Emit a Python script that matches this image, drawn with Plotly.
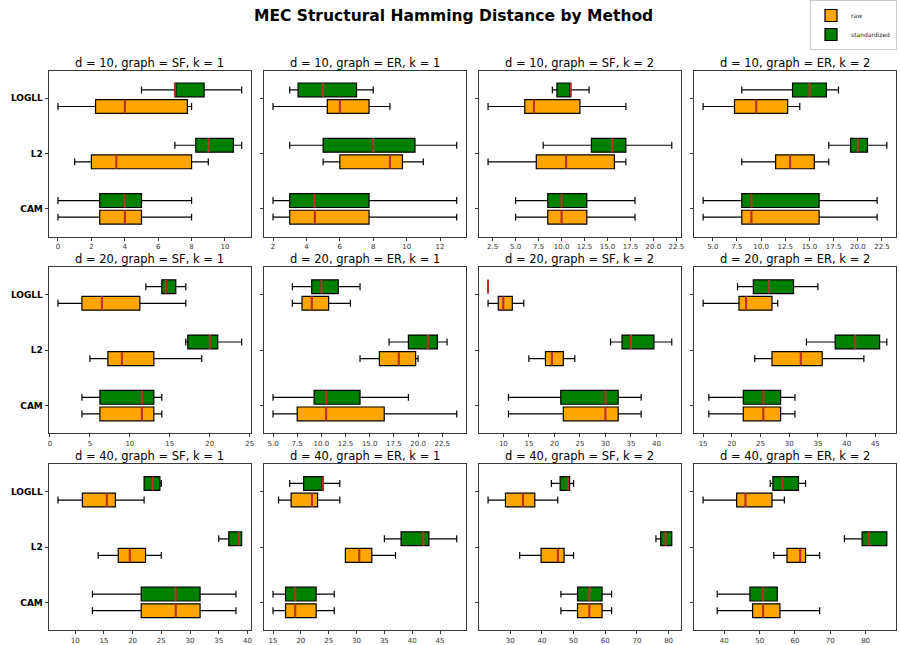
import plotly.graph_objects as go

# ---------------- data ----------------
methods = ["CAM", "L2", "LOGLL"]
panel_titles = [
    "d = 10, graph = SF, k = 1", "d = 10, graph = ER, k = 1",
    "d = 10, graph = SF, k = 2", "d = 10, graph = ER, k = 2",
    "d = 20, graph = SF, k = 1", "d = 20, graph = ER, k = 1",
    "d = 20, graph = SF, k = 2", "d = 20, graph = ER, k = 2",
    "d = 40, graph = SF, k = 1", "d = 40, graph = ER, k = 1",
    "d = 40, graph = SF, k = 2", "d = 40, graph = ER, k = 2",
]
series_names = ["raw", "standardized"]

# each row: [lower whisker, q1, median, q3, upper whisker], one row per panel
raw_cam = [
    [0, 2.5, 4, 5, 8], [2, 3, 4.5, 7.75, 13], [5, 8.5, 10, 12.75, 18], [4, 8, 9, 16, 22],
    [4, 6.25, 11.5, 13, 14], [5, 7.5, 10.5, 16.5, 24], [11, 21.75, 30, 32.5, 37], [16, 22, 25.5, 28.5, 31],
    [13, 21.5, 27.5, 31.75, 38], [15, 17.25, 19, 22.75, 26], [46, 51.25, 55, 59, 62], [38, 48, 51, 55.75, 67],
]
std_cam = [
    [0, 2.5, 4, 5, 8], [2, 3, 4.5, 7.75, 13], [5, 8.5, 10, 12.75, 18], [4, 8, 9, 16, 22],
    [4, 6.25, 11.5, 13, 14], [5, 9.25, 10.5, 14, 19], [11, 21.25, 30, 32.5, 37], [16, 22, 25.5, 28.5, 31],
    [13, 21.5, 27.5, 31.75, 38], [15, 17.25, 19, 22.75, 26], [46, 51.25, 55, 59, 62], [38, 47.25, 51, 55, 55],
]
raw_l2 = [
    [1, 2, 3.5, 8, 9], [5, 6, 9, 9.75, 11], [2, 7.25, 10.5, 15.75, 17], [8, 11.5, 13, 15.5, 17],
    [5, 7.25, 9, 13, 19], [14, 16, 18, 19.75, 20], [15, 18.25, 19.5, 21.75, 24], [24, 27, 32, 35.75, 43],
    [14, 17.5, 19.5, 22.25, 25], [28, 28, 30.5, 32.75, 37], [33, 39.75, 45, 47, 50], [54, 57.75, 61.5, 63, 67],
]
std_l2 = [
    [7, 8.25, 9, 10.5, 11], [3, 5, 8, 10.5, 13], [8, 13.25, 15.5, 17, 22], [17, 19.25, 20, 21, 23],
    [17, 17.25, 20, 21, 24], [17, 19, 21, 22, 23], [31, 33.25, 35, 39.5, 43], [33, 38, 41.5, 45.75, 47],
    [35, 36.75, 38.5, 39, 39], [35, 38, 42, 43, 48], [76, 77.5, 79, 81, 81], [74, 79, 81, 86, 86],
]
raw_logll = [
    [0, 2.25, 4, 7.75, 8], [2, 5.25, 6, 7.75, 9], [2, 6, 7, 12, 17], [4, 7.25, 9.5, 12.75, 14],
    [1, 4, 6.5, 11.25, 17], [7, 8, 9, 10.75, 13], [7, 9, 10, 11.75, 14], [15, 21.25, 22.5, 27, 28],
    [7, 11.25, 15.5, 17, 22], [16, 18.25, 22, 23, 27], [23, 28.5, 34, 37.75, 45], [34, 43.5, 46, 53.5, 57],
]
std_logll = [
    [5, 7, 7, 8.75, 11], [3, 3.5, 5, 7, 8], [9, 9.5, 11, 11, 13], [8, 13.25, 15, 16.75, 18],
    [12, 14, 14.5, 15.75, 17], [7, 9, 10, 11.75, 14], [7, 7, 7, 7, 7], [21, 23.75, 26.5, 30.75, 35],
    [22, 22, 23.5, 24.75, 25], [18, 20.5, 24, 24, 27], [43, 45.75, 48.25, 48.75, 50], [53, 53.75, 56.5, 61, 63],
]

x_dticks = [2, 2, 2.5, 2.5, 5, 2.5, 5, 5, 5, 5, 10, 10]
x_tickformats = ["d", "d", ".1f", ".1f", "d", ".1f", "d", "d", "d", "d", "d", "d"]

# ---------------- styling ----------------
W, H = 900, 645
FONT = "DejaVu Sans"
colors = {"raw": "orange", "standardized": "green"}
offsets = {"raw": -0.15, "standardized": 0.15}
median_color = "#c0302b"
box_w = 0.25
col_left = [48, 264, 480, 696]
panel_w = 203
row_top = [71, 269, 467]
panel_h = 167
axis_color = "#3a3a3a"

fig = go.Figure()
annotations = []

for p in range(12):
    r, c = divmod(p, 4)
    sfx = "" if p == 0 else str(p + 1)
    per_series = {
        "raw": [raw_cam[p], raw_l2[p], raw_logll[p]],
        "standardized": [std_cam[p], std_l2[p], std_logll[p]],
    }
    # boxes
    for name in series_names:
        rows = per_series[name]
        pos = [i + offsets[name] for i in range(len(methods))]
        fig.add_trace(go.Box(
            orientation="h", y=pos,
            lowerfence=[s[0] for s in rows], q1=[s[1] for s in rows],
            median=[s[2] for s in rows], q3=[s[3] for s in rows],
            upperfence=[s[4] for s in rows],
            width=box_w, whiskerwidth=0.5,
            fillcolor=colors[name], line=dict(color="black", width=1.2),
            name=name, legendgroup=name, showlegend=(p == 0),
            hoverinfo="skip", xaxis="x" + sfx, yaxis="y" + sfx,
        ))
    # red median lines
    for name in series_names:
        rows = per_series[name]
        pos = [i + offsets[name] for i in range(len(methods))]
        med = [s[2] for s in rows]
        fig.add_trace(go.Box(
            orientation="h", y=pos,
            lowerfence=med, q1=med, median=med, q3=med, upperfence=med,
            width=box_w, whiskerwidth=0,
            fillcolor="rgba(0,0,0,0)", line=dict(color=median_color, width=2),
            showlegend=False, hoverinfo="skip", xaxis="x" + sfx, yaxis="y" + sfx,
        ))

    allv = [v for rows in per_series.values() for s in rows for v in s]
    lo, hi = min(allv), max(allv)
    pad = 0.05 * (hi - lo)

    x0 = col_left[c] / W
    x1 = (col_left[c] + panel_w) / W
    y1 = 1 - row_top[r] / H
    y0 = 1 - (row_top[r] + panel_h) / H

    fig.layout["xaxis" + sfx] = dict(
        domain=[x0, x1], anchor="y" + sfx, range=[lo - pad, hi + pad],
        tick0=0, dtick=x_dticks[p], tickformat=x_tickformats[p],
        tickfont=dict(size=7, color="#333", family=FONT),
        ticks="outside", ticklen=3, tickcolor=axis_color,
        showline=True, mirror=True, linecolor=axis_color, linewidth=1.3,
        showgrid=False, zeroline=False, fixedrange=True,
    )
    fig.layout["yaxis" + sfx] = dict(
        domain=[y0, y1], anchor="x" + sfx, range=[-0.5, len(methods) - 0.5],
        tickvals=list(range(len(methods))), ticktext=methods,
        showticklabels=(c == 0),
        tickfont=dict(size=9, color="black", family=FONT, weight="bold"),
        ticks="outside", ticklen=3, tickcolor=axis_color,
        showline=True, mirror=True, linecolor=axis_color, linewidth=1.3,
        showgrid=False, zeroline=False, fixedrange=True,
    )
    annotations.append(dict(
        text=panel_titles[p], xref="paper", yref="paper",
        x=(x0 + x1) / 2, y=y1, xanchor="center", yanchor="bottom",
        showarrow=False, borderpad=0,
        font=dict(size=11.5, color="black", family=FONT),
    ))

annotations.append(dict(
    text="<b>MEC Structural Hamming Distance by Method</b>", xref="paper", yref="paper",
    x=455 / W, y=1 - 16 / H, xanchor="center", yanchor="middle",
    showarrow=False, font=dict(size=15.5, color="black", family=FONT),
))

fig.update_layout(
    width=W, height=H, margin=dict(l=0, r=0, t=0, b=0),
    paper_bgcolor="white", plot_bgcolor="white",
    boxmode="overlay", annotations=annotations,
    font=dict(family=FONT),
    legend=dict(x=1, y=1, xanchor="right", yanchor="top",
                font=dict(size=6, family=FONT, color="#222"), bgcolor="white",
                bordercolor="#cccccc", borderwidth=1, tracegroupgap=0,
                itemwidth=30),
)

fig.write_html("out.html", config={"displayModeBar": False},
               post_script="document.body.style.margin='0';")
